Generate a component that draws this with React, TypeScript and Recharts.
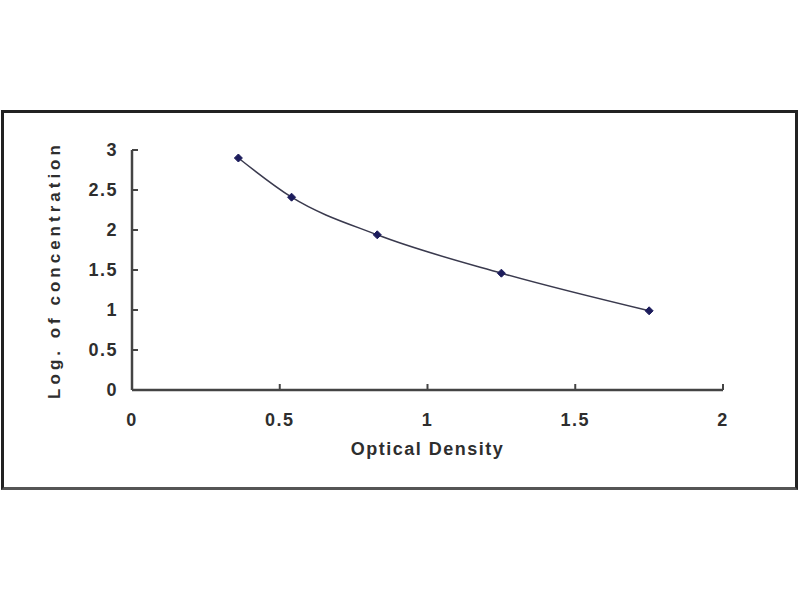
import React from 'react';
import { LineChart, Line, XAxis, YAxis, Label } from 'recharts';

const opticalDensity = [0.36, 0.54, 0.83, 1.25, 1.75];
const logConcentration = [2.9, 2.41, 1.94, 1.46, 0.99];
const xTicks = [0, 0.5, 1, 1.5, 2];
const yTicks = [0, 0.5, 1, 1.5, 2, 2.5, 3];

const chartData = opticalDensity.map((od, i) => ({ od, conc: logConcentration[i] }));

const FONT = '"Liberation Sans", Arial, sans-serif';
const tickStyle = { fill: '#2e2e2e', fontSize: 18, fontWeight: 'bold', fontFamily: FONT, letterSpacing: 1.5 };

const Diamond = (props: any) => {
  const { cx, cy, index } = props;
  const r = 4;
  return (
    <path
      key={`d-${index}`}
      d={`M${cx},${cy - r}L${cx + r},${cy}L${cx},${cy + r}L${cx - r},${cy}Z`}
      fill="#1c1c5c"
      stroke="#1c1c5c"
      strokeWidth={1}
    />
  );
};

export default function App() {
  return (
    <div style={{ position: 'absolute', left: 0, top: 0, width: 800, height: 600, background: '#fff' }}>
      {/* outer frame */}
      <div
        style={{
          position: 'absolute',
          left: 1,
          top: 110,
          width: 797,
          height: 380,
          border: '3px solid #222',
          borderBottomColor: '#555',
          boxSizing: 'border-box',
        }}
      />
      <div style={{ position: 'absolute', left: 0, top: 0 }}>
        <LineChart
          width={800}
          height={600}
          data={chartData}
          margin={{ top: 150, right: 77, bottom: 180, left: 92 }}
        >
          <XAxis
            type="number"
            dataKey="od"
            domain={[0, 2]}
            ticks={xTicks}
            height={30}
            tickSize={-6}
            tickMargin={29}
            tick={tickStyle}
            axisLine={{ stroke: '#444', strokeWidth: 2.5 }}
            tickLine={{ stroke: '#444', strokeWidth: 2 }}
          >
            <Label
              value="Optical Density"
              position="bottom"
              offset={22}
              style={{ fill: '#2e2e2e', fontSize: 18, fontWeight: 'bold', fontFamily: FONT, letterSpacing: 1.5 }}
            />
          </XAxis>
          <YAxis
            type="number"
            domain={[0, 3]}
            ticks={yTicks}
            width={40}
            tickSize={-6}
            tickMargin={20}
            tick={tickStyle}
            axisLine={{ stroke: '#444', strokeWidth: 2.5 }}
            tickLine={{ stroke: '#444', strokeWidth: 2 }}
          >
            <Label
              value="Log. of concentration"
              angle={-90}
              position="left"
              offset={38}
              style={{
                fill: '#2e2e2e',
                fontSize: 17,
                fontWeight: 'bold',
                fontFamily: FONT,
                letterSpacing: 4,
                textAnchor: 'middle',
              }}
            />
          </YAxis>
          <Line
            type="monotone"
            dataKey="conc"
            stroke="#3a3a4e"
            strokeWidth={1.5}
            dot={Diamond}
            activeDot={false}
            isAnimationActive={false}
          />
        </LineChart>
      </div>
    </div>
  );
}
